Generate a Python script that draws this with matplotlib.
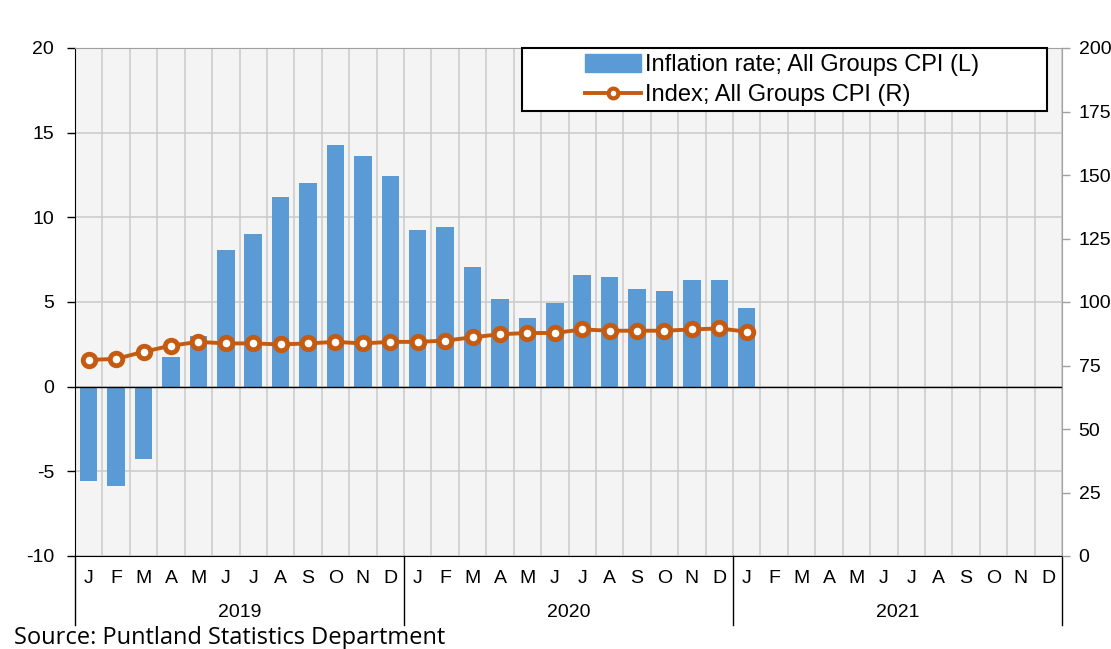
import numpy as np
import matplotlib
matplotlib.use("Agg")
import matplotlib.pyplot as plt
from matplotlib.patches import Rectangle
from matplotlib.lines import Line2D
import matplotlib.transforms as mtransforms

plt.rcParams['font.family'] = ['Liberation Sans', 'DejaVu Sans']
plt.rcParams['axes.unicode_minus'] = False

# data: Jan 2019 .. Jan 2021
months = ['J', 'F', 'M', 'A', 'M', 'J', 'J', 'A', 'S', 'O', 'N', 'D'] * 3
years = ['2019', '2020', '2021']
inflation = [-5.6, -5.85, -4.25, 1.75, 3.0, 8.05, 9.0, 11.2, 12.05, 14.25, 13.6, 12.45,
             9.25, 9.45, 7.05, 5.2, 4.05, 4.95, 6.6, 6.45, 5.75, 5.65, 6.3, 6.3,
             4.65]
cpi_index = [77.2, 77.6, 80.4, 82.8, 84.3, 83.7, 83.7, 83.3, 83.7, 84.3, 83.7, 84.3,
             84.3, 84.8, 86.1, 87.3, 87.8, 87.8, 89.2, 88.7, 88.7, 88.7, 89.2, 89.6,
             88.3]

bar_color = '#5b9bd5'
line_color = '#c55a11'
grid_color = '#cacaca'

fig = plt.figure(figsize=(11.11, 6.49), dpi=100)
ax = fig.add_axes([75 / 1111, 1 - 556 / 649, 987 / 1111, 508 / 649])
ax.set_facecolor('#f4f4f4')

x = np.arange(len(inflation))
ax.bar(x, inflation, width=0.64, color=bar_color, zorder=3)
ax.axhline(0, color='black', lw=1, zorder=4)

ax.set_xlim(-0.5, 35.5)
ax.set_ylim(-10, 20)
ax.set_yticks(np.arange(-10, 21, 5))
ax.set_xticks(np.arange(-0.5, 36, 1))
ax.xaxis.set_tick_params(length=0, labelbottom=False)
ax.grid(True, color=grid_color, lw=1.1, zorder=0)
ax.tick_params(axis='y', labelsize=14, length=6, width=1, direction='out', pad=9)
ax.spines['left'].set_color('black')
ax.spines['bottom'].set_color('black')
ax.spines['top'].set_color('#a0a0a0')
ax.spines['right'].set_color('#a0a0a0')

ax2 = ax.twinx()
ax2.plot(np.arange(len(cpi_index)), cpi_index, color=line_color, lw=2.8,
         marker='o', ms=9, mfc='white', mec=line_color, mew=3.5, zorder=5)
ax2.set_ylim(0, 200)
ax2.set_yticks(np.arange(0, 201, 25))
ax2.tick_params(axis='y', labelsize=14, length=6, width=1, color='#a0a0a0',
                direction='out', pad=6)
for s in ax2.spines.values():
    s.set_visible(False)

# category axis below the plot
trans = mtransforms.blended_transform_factory(ax.transData, ax.transAxes)
for i, m in enumerate(months):
    ax.text(i, -0.045, m, transform=trans, ha='center', va='center', fontsize=14)
for k, yr in enumerate(years):
    ax.text(12 * k + 5.5, -0.111, yr, transform=trans, ha='center', va='center', fontsize=14)
for xb in [-0.5, 11.5, 23.5, 35.5]:
    ax.add_line(Line2D([xb, xb], [0, -0.136], transform=trans, color='black',
                       lw=1, clip_on=False))

# legend with its own frame
ax2.add_patch(Rectangle((0.453, 0.876), 0.532, 0.124, transform=ax.transAxes,
                        facecolor='white', edgecolor='black', lw=1.5, zorder=10,
                        clip_on=False))
handles = [Rectangle((0, 0), 1, 1, color=bar_color),
           Line2D([], [], color=line_color, lw=2.8, marker='o', ms=7,
                  mfc='white', mec=line_color, mew=3)]
labels = ['Inflation rate; All Groups CPI (L)', 'Index; All Groups CPI (R)']
leg = ax2.legend(handles, labels, loc='center', bbox_to_anchor=(0.716, 0.937),
                 bbox_transform=ax.transAxes, frameon=False, fontsize=17,
                 handlelength=2.4, handleheight=0.8, handletextpad=0.15,
                 labelspacing=0.35, borderaxespad=0)
leg.set_zorder(11)

fig.text(14 / 1111, 1 - 638 / 649, 'Source: Puntland Statistics Department',
         fontsize=17, family=['Open Sans', 'DejaVu Sans'], va='center', ha='left')

fig.savefig('out.png', dpi=100)
